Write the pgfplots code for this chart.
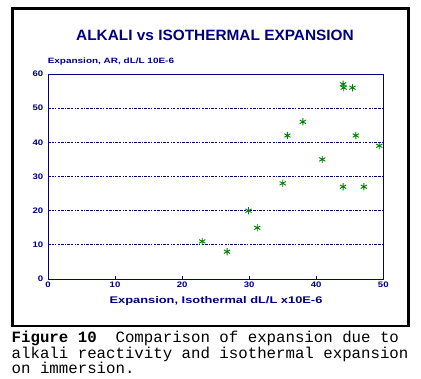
\documentclass[border=0pt]{standalone}
\usepackage{fontspec}
\setmainfont{Liberation Sans}
\newfontfamily\capfont{Liberation Mono}
\usepackage{pgfplots}
\pgfplotsset{compat=1.18}
\definecolor{navy}{RGB}{0,0,128}
\definecolor{ptgreen}{RGB}{0,128,0}
\begin{document}
\begin{tikzpicture}[x=1bp,y=1bp]
\useasboundingbox (0,0) rectangle (421,-379);
\draw[line width=2.2bp] (12.5,-8.5) rectangle (408.5,-326);
\begin{axis}[
  at={(48bp,-279bp)}, anchor=south west,
  scale only axis, width=335.3bp, height=205bp,
  xmin=0, xmax=50, ymin=0, ymax=60,
  xtick={0,10,...,50}, ytick={0,10,...,60},
  axis line style={navy, line width=0.8bp},
  tick style={navy, line width=0.6bp},
  xtick pos=bottom, ytick pos=left,
  xtick align=inside, major tick length=3bp,
  ytick style={draw=none},
  ymajorgrids,
  grid style={navy, line width=0.7bp, dash pattern=on 2.5bp off 1.2bp on 2.5bp off 1.2bp on 1bp off 1.2bp},
  tick label style={font=\fontsize{8}{9}\selectfont\bfseries, text=navy, xscale=1.2},
  /pgf/number format/assume math mode=true,
  xticklabel style={yshift=0.5bp},
  yticklabel style={xshift=-0.5bp},
  clip=false,
]
\addplot[only marks, mark=asterisk, mark size=3.6bp, mark options={ptgreen, line width=0.9bp}] coordinates {
(23,11) (26.7,8) (29.9,20) (31.2,15) (35.0,28) (35.7,42) (38.0,46) (40.9,35)
(44.0,27) (45.9,42) (47.1,27) (49.4,39) (44.0,57) (44.1,56) (45.4,56)
};
\end{axis}
\node[navy, font=\fontsize{15}{16}\selectfont\bfseries, xscale=1.03] at (215,-35) {ALKALI vs ISOTHERMAL EXPANSION};
\node[navy, font=\fontsize{7.7}{9}\selectfont\bfseries, anchor=west, inner sep=0, xscale=1.3] at (47.5,-62) {Expansion, AR, dL/L 10E-6};
\node[navy, font=\fontsize{9.7}{11}\selectfont\bfseries, inner sep=0, xscale=1.33] at (216,-300.5) {Expansion, Isothermal dL/L x10E-6};
\node[anchor=base west, inner sep=0, font=\fontsize{15.8}{16}\capfont] at (11.5,-342.5) {\textbf{Figure 10}\ \ Comparison of expansion due to};
\node[anchor=base west, inner sep=0, font=\fontsize{15.8}{16}\capfont] at (11.5,-358) {alkali reactivity and isothermal expansion};
\node[anchor=base west, inner sep=0, font=\fontsize{15.8}{16}\capfont] at (11.5,-373) {on immersion.};
\end{tikzpicture}
\end{document}
